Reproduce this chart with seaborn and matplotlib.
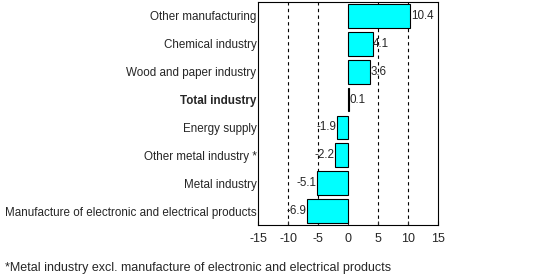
import matplotlib
matplotlib.use("Agg")
import matplotlib.pyplot as plt
import seaborn as sns
import pandas as pd

categories = ["Other manufacturing", "Chemical industry", "Wood and paper industry",
              "Total industry", "Energy supply", "Other metal industry *",
              "Metal industry", "Manufacture of electronic and electrical products"]
values = [10.4, 4.1, 3.6, 0.1, -1.9, -2.2, -5.1, -6.9]
value_labels = ["10.4", "4.1", "3.6", "0.1", "-1.9", "-2.2", "-5.1", "-6.9"]
xticks = [-15, -10, -5, 0, 5, 10, 15]
footnote = "*Metal industry excl. manufacture of electronic and electrical products"

sns.set_style("white")
plt.rcParams['font.family'] = ['Liberation Sans', 'DejaVu Sans']

df = pd.DataFrame({"cat": categories, "val": values})

FS = 9
YFS = 8.4

fig = plt.figure(figsize=(5.34, 2.75), dpi=100)
ax = fig.add_axes([258/534, 1-225/275, 180/534, 223/275])

sns.barplot(data=df, x="val", y="cat", orient="h", color="#00FFFF",
            edgecolor="black", linewidth=0.8, width=0.85, saturation=1, ax=ax)

ax.set_xlim(-15, 15)
ax.set_xticks(xticks)
ax.set_xticklabels([str(t) for t in xticks], fontsize=FS)
for g in [-10, -5, 5, 10]:
    ax.axvline(g, color="black", linestyle=(0, (3, 3)), linewidth=0.8, zorder=0)
ax.tick_params(axis="x", direction="in", length=3, width=0.8, pad=6, bottom=True)
ax.tick_params(axis="y", length=0, pad=1)
ax.set_ylabel("")
ax.set_xlabel("")
for s in ax.spines.values():
    s.set_color("black")
    s.set_linewidth(0.8)

for lbl in ax.get_yticklabels():
    lbl.set_fontsize(YFS)
    if lbl.get_text() == "Total industry":
        lbl.set_fontweight("bold")

for i, (v, t) in enumerate(zip(values, value_labels)):
    if v >= 0:
        ax.text(v + 0.1, i, t, va="center", ha="left", fontsize=YFS)
    else:
        ax.text(v - 0.1, i, t, va="center", ha="right", fontsize=YFS)

fig.text(5/534, 1-268/275, footnote, fontsize=FS, va="center", ha="left")

fig.savefig("out.png", dpi=100)
